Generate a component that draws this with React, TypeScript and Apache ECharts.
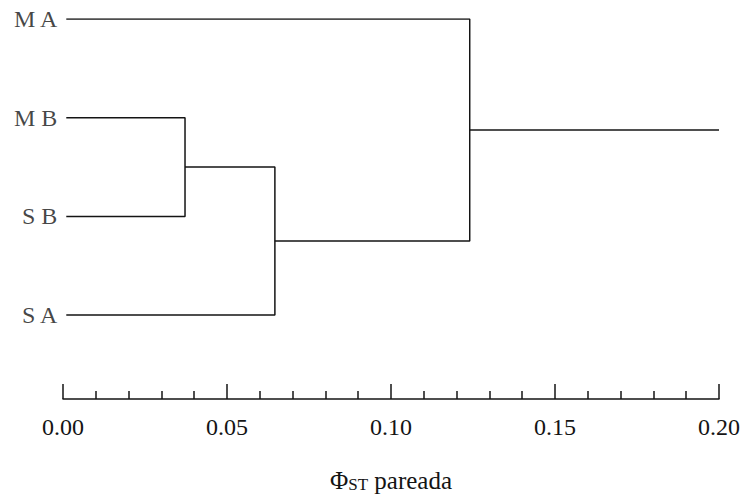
import React, { useEffect, useRef } from "react";
import * as echarts from "echarts";

// Leaves (top to bottom) and their vertical slot
const leafNames = ["M A", "M B", "S B", "S A"];
const leafSlots = [4, 3, 2, 1];
const leafStart = 0.001;
// Merge heights (Φ_ST): MB+SB, (MB,SB)+SA, ((MB,SB),SA)+MA
const mergeHeights = [0.0372, 0.0646, 0.124];
const rootEnd = 0.2;
const tickLabels = ["0.00", "0.05", "0.10", "0.15", "0.20"];

const SERIF = "Liberation Serif";
const INK = "#141414";

export default function App() {
  const ref = useRef<HTMLDivElement>(null);
  useEffect(() => {
    document.body.style.margin = "0";
    if (!ref.current) return;
    const chart = echarts.init(ref.current, undefined, { renderer: "svg" });
    const yMA = leafSlots[0], yMB = leafSlots[1], ySB = leafSlots[2], ySA = leafSlots[3];
    const [h1, h2, h3] = mergeHeights;
    const y1 = (yMB + ySB) / 2;
    const y2 = (y1 + ySA) / 2;
    const y3 = (y2 + yMA) / 2;
    const paths: number[][][] = [
      [[leafStart, yMB], [h1, yMB], [h1, ySB], [leafStart, ySB]],
      [[h1, y1], [h2, y1], [h2, ySA], [leafStart, ySA]],
      [[h2, y2], [h3, y2], [h3, yMA], [leafStart, yMA]],
      [[h3, y3], [rootEnd, y3]],
    ];
    const lineStyle = { color: INK, width: 1.5 };
    const series: any[] = paths.map((p) => ({
      type: "line",
      data: p,
      symbol: "none",
      lineStyle,
      silent: true,
    }));
    series.push({
      type: "scatter",
      symbolSize: 0,
      data: leafNames.map((n, i) => ({ value: [leafStart, leafSlots[i]], name: n })),
      label: {
        show: true,
        position: "left",
        distance: 9,
        formatter: (p: any) => p.name,
        fontFamily: SERIF,
        fontSize: 24,
        color: INK,
      },
      silent: true,
    });
    chart.setOption({
      animation: false,
      backgroundColor: "#ffffff",
      textStyle: { fontFamily: SERIF },
      grid: { left: 63, right: 33, top: 19, bottom: 95, containLabel: false },
      xAxis: {
        type: "value",
        min: 0,
        max: 0.2,
        interval: 0.05,
        axisLine: { show: true, lineStyle: { color: INK, width: 1.5 } },
        axisTick: { show: true, inside: true, length: 15, lineStyle: { color: INK, width: 1.5 } },
        minorTick: { show: true, splitNumber: 5, length: 8, lineStyle: { color: INK, width: 1.5 } },
        splitLine: { show: false },
        axisLabel: {
          margin: 16,
          fontFamily: SERIF,
          fontSize: 24,
          color: INK,
          formatter: (v: number) => {
            const i = Math.round(v / 0.05);
            return tickLabels[i] ?? "";
          },
        },
        name: "{a|Φ}{sub|ST}{b| pareada}",
        nameLocation: "middle",
        nameGap: 68,
        nameTextStyle: {
          fontFamily: SERIF,
          fontSize: 25,
          color: INK,
          rich: {
            a: { fontFamily: SERIF, fontSize: 25, color: INK },
            b: { fontFamily: SERIF, fontSize: 25, color: INK },
            sub: {
              fontFamily: SERIF,
              fontSize: 17,
              color: INK,
              verticalAlign: "bottom",
              padding: [9, 0, 0, 0],
            },
          },
        },
      },
      yAxis: {
        type: "value",
        min: 0.15,
        max: 4,
        show: false,
      },
      series,
    });
    return () => chart.dispose();
  }, []);
  return <div ref={ref} style={{ width: 752, height: 498 }} />;
}
